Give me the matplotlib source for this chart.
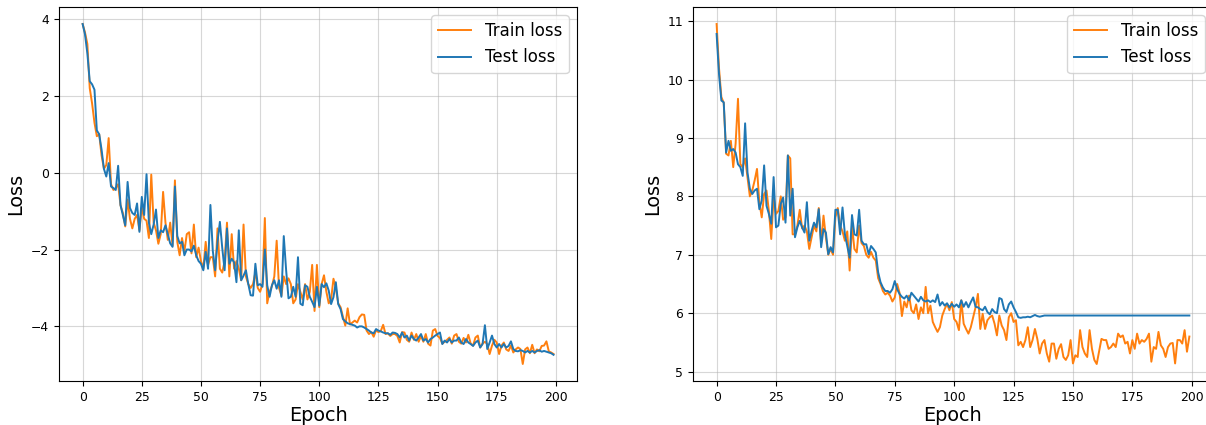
import matplotlib
matplotlib.use("Agg")
import matplotlib.pyplot as plt

# left panel: loss per epoch
left_train = [
    3.87, 3.65, 3.35, 2.2, 1.8, 1.3, 0.95, 1.0, 0.45, 0.1,
    0.2, 0.9, -0.3, -0.45, -0.4, -0.3, -0.85, -1.05, -1.4, -0.7,
    -1.2, -1.45, -1.2, -1.1, -1.5, -0.9, -1.2, -1.25, -1.7, -0.05,
    -1.3, -1.5, -1.85, -1.6, -0.5, -1.3, -1.75, -1.3, -1.9, -0.2,
    -1.8, -2.15, -1.7, -2.05, -1.6, -1.55, -2.1, -1.35, -2.2, -1.95,
    -2.3, -2.5, -1.8, -2.4, -2.2, -2.2, -2.7, -1.45, -2.5, -2.6,
    -2.3, -1.3, -2.7, -1.6, -2.5, -2.3, -2.5, -2.8, -1.35, -2.7,
    -2.9, -3.0, -2.9, -2.6, -3.0, -3.1, -2.9, -1.18, -3.4, -3.1,
    -2.95, -2.7, -1.77, -3.0, -3.2, -2.7, -2.9, -2.75, -2.9, -3.4,
    -3.3, -2.9, -3.1, -3.3, -2.9, -3.3, -3.1, -2.4, -3.6, -2.4,
    -3.5, -2.9, -2.67, -3.1, -3.4, -3.3, -2.76, -3.0, -3.4, -3.5,
    -3.75, -3.98, -3.53, -3.95, -3.9, -3.85, -3.9, -3.76, -3.69, -3.7,
    -4.11, -4.2, -4.15, -4.27, -4.1, -4.15, -4.12, -3.96, -4.2, -4.18,
    -4.25, -4.2, -4.2, -4.25, -4.42, -4.15, -4.16, -4.35, -4.4, -4.16,
    -4.35, -4.2, -4.4, -4.25, -4.4, -4.2, -4.45, -4.5, -4.11, -4.07,
    -4.25, -4.3, -4.45, -4.4, -4.35, -4.29, -4.45, -4.24, -4.2, -4.4,
    -4.45, -4.3, -4.42, -4.22, -4.45, -4.5, -4.29, -4.24, -4.55, -4.45,
    -4.4, -4.46, -4.72, -4.5, -4.35, -4.42, -4.72, -4.5, -4.42, -4.6,
    -4.64, -4.5, -4.68, -4.6, -4.55, -4.59, -4.98, -4.6, -4.55, -4.7,
    -4.48, -4.7, -4.6, -4.65, -4.51, -4.5, -4.39, -4.65, -4.68, -4.72,
]
left_test = [
    3.87, 3.6, 3.1, 2.38, 2.3, 2.16, 1.1, 1.0, 0.6, 0.1,
    -0.1, 0.25, -0.36, -0.4, -0.45, 0.18, -0.84, -1.1, -1.37, -0.24,
    -0.92, -1.05, -1.1, -0.8, -1.54, -0.63, -1.1, -0.04, -1.3, -1.6,
    -1.35, -0.96, -1.7, -1.5, -1.55, -1.37, -1.6, -1.84, -1.93, -0.36,
    -1.65, -1.84, -1.8, -2.15, -2.0, -2.0, -2.05, -1.9, -2.15, -2.3,
    -2.37, -2.54, -2.06, -2.5, -0.84, -2.03, -2.54, -1.8, -1.28, -1.96,
    -2.54, -1.45, -2.37, -2.24, -2.33, -2.85, -1.5, -2.8, -2.68, -2.54,
    -2.9, -3.19, -3.2, -2.37, -2.93, -2.9, -2.97, -2.0, -2.93, -3.23,
    -2.93, -2.8, -3.02, -2.8, -3.23, -1.65, -2.54, -3.27, -3.23, -2.97,
    -3.23, -2.2, -3.41, -3.45, -2.93, -2.97, -3.23, -3.36, -3.5, -2.97,
    -3.46, -2.9, -2.98, -2.88, -3.07, -3.42, -3.24, -2.85, -3.42, -3.55,
    -3.81, -3.87, -3.92, -3.94, -3.96, -3.98, -4.03, -4.0, -4.0, -4.03,
    -4.07, -4.11, -4.16, -4.18, -4.07, -4.11, -4.13, -4.16, -4.18, -4.18,
    -4.22, -4.16, -4.17, -4.2, -4.29, -4.16, -4.29, -4.24, -4.37, -4.24,
    -4.33, -4.37, -4.29, -4.2, -4.37, -4.33, -4.42, -4.33, -4.29, -4.24,
    -4.2, -4.16, -4.46, -4.37, -4.42, -4.33, -4.42, -4.37, -4.37, -4.29,
    -4.42, -4.46, -4.33, -4.42, -4.46, -4.51, -4.42, -4.37, -4.55, -4.46,
    -3.97, -4.59, -4.42, -4.24, -4.46, -4.55, -4.46, -4.55, -4.46, -4.55,
    -4.51, -4.39, -4.59, -4.64, -4.65, -4.62, -4.64, -4.68, -4.64, -4.68,
    -4.64, -4.68, -4.64, -4.62, -4.66, -4.64, -4.66, -4.68, -4.7, -4.74,
]

# right panel
right_train = [
    10.95, 10.2, 9.7, 9.6, 8.73, 8.7, 8.95, 8.5, 8.9, 9.67,
    8.55, 8.5, 8.65, 8.33, 8.0, 8.1, 8.27, 8.47, 7.9, 7.64,
    8.04, 8.1, 7.75, 7.27, 8.0, 7.7, 7.75, 8.0, 7.6, 7.64,
    8.7, 8.65, 7.35, 7.35, 7.5, 7.77, 7.45, 7.5, 7.4, 7.1,
    7.3, 7.5, 7.4, 7.8, 7.2, 7.67, 7.3, 7.0, 7.1, 7.0,
    7.64, 7.8, 7.5, 7.4, 7.24, 7.4, 6.73, 7.5, 7.1, 7.04,
    7.5, 7.2, 7.15, 7.0, 6.95, 7.05, 6.95, 6.9, 6.6, 6.5,
    6.38, 6.32, 6.35, 6.3, 6.2, 6.27, 6.5, 6.35, 5.95, 6.2,
    6.1, 6.3, 6.05, 6.0, 6.15, 5.9, 6.1, 6.0, 6.45, 6.0,
    6.13, 5.85, 5.76, 5.68, 5.76, 5.96, 6.07, 6.16, 6.05, 6.19,
    5.9, 5.85, 5.71, 6.22, 5.82, 5.73, 5.65, 5.76, 5.93, 6.1,
    6.33, 5.73, 5.99, 5.73, 5.88, 5.93, 5.96, 5.82, 5.62, 5.96,
    5.79, 5.71, 5.54, 5.93, 6.0, 5.85, 5.88, 5.45, 5.51, 5.42,
    5.54, 5.76, 5.42, 5.54, 5.73, 5.56, 5.31, 5.48, 5.54, 5.31,
    5.17, 5.48, 5.48, 5.22, 5.39, 5.47, 5.25, 5.2, 5.28, 5.54,
    5.14, 5.28, 5.25, 5.71, 5.42, 5.31, 5.25, 5.71, 5.39, 5.2,
    5.13, 5.34, 5.56, 5.54, 5.54, 5.39, 5.42, 5.48, 5.42, 5.65,
    5.59, 5.62, 5.48, 5.51, 5.31, 5.54, 5.39, 5.65, 5.48, 5.54,
    5.51, 5.56, 5.65, 5.17, 5.42, 5.39, 5.68, 5.45, 5.39, 5.25,
    5.42, 5.48, 5.49, 5.14, 5.54, 5.54, 5.48, 5.71, 5.34, 5.6,
]
right_test = [
    10.78, 10.1, 9.64, 9.61, 8.75, 8.95, 8.78, 8.81, 8.75, 8.55,
    8.5, 8.35, 9.25, 8.41, 8.13, 8.04, 8.1, 8.13, 7.78, 7.93,
    8.53, 7.84, 7.7, 7.53, 8.33, 7.47, 7.5, 7.87, 7.98, 7.55,
    8.7, 7.67, 8.13, 7.3, 7.47, 7.58, 7.47, 7.38, 7.9, 7.24,
    7.41, 7.55, 7.47, 7.78, 7.13, 7.44, 7.38, 7.01, 7.13, 7.04,
    7.77, 7.77, 7.35, 7.81, 7.35, 7.15, 6.95, 7.68, 7.35, 7.33,
    7.77, 7.24, 7.18, 7.18, 7.01, 7.15, 7.1, 7.04, 6.7, 6.53,
    6.44, 6.38, 6.38, 6.35, 6.41, 6.55, 6.41, 6.33, 6.28, 6.25,
    6.3, 6.22, 6.35, 6.3, 6.25, 6.2, 6.28, 6.22, 6.2, 6.22,
    6.19, 6.22, 6.19, 6.32, 6.13, 6.19, 6.13, 6.17, 6.1, 6.16,
    6.11, 6.15, 6.1, 6.22, 6.11, 6.19, 6.1, 6.19, 6.27, 6.11,
    6.1, 6.07, 6.05, 6.11, 6.02, 5.98, 6.07, 6.02, 6.0, 6.26,
    6.24, 6.07, 6.02, 6.15, 6.2, 6.1, 6.02, 5.93, 5.92, 5.93,
    5.93, 5.94, 5.93, 5.95, 5.97, 5.95, 5.94, 5.95, 5.96, 5.96,
    5.96, 5.96, 5.96, 5.96, 5.96, 5.96, 5.96, 5.96, 5.96, 5.96,
    5.96, 5.96, 5.96, 5.96, 5.96, 5.96, 5.96, 5.96, 5.96, 5.96,
    5.96, 5.96, 5.96, 5.96, 5.96, 5.96, 5.96, 5.96, 5.96, 5.96,
    5.96, 5.96, 5.96, 5.96, 5.96, 5.96, 5.96, 5.96, 5.96, 5.96,
    5.96, 5.96, 5.96, 5.96, 5.96, 5.96, 5.96, 5.96, 5.96, 5.96,
    5.96, 5.96, 5.96, 5.96, 5.96, 5.96, 5.96, 5.96, 5.96, 5.96,
]

epochs = list(range(len(left_train)))

fig = plt.figure(figsize=(12.06, 4.25), dpi=100)
# axes placed to match the reference (right panel runs slightly off the edge)
ax1 = fig.add_axes([0.049, 0.1035, 0.4295, 0.88])
ax2 = fig.add_axes([0.5746, 0.1035, 0.4312, 0.88])

for ax, train, test in [(ax1, left_train, left_test), (ax2, right_train, right_test)]:
    ax.plot(epochs, train, color="#ff7f0e", linewidth=1.4, label="Train loss")
    ax.plot(epochs, test, color="#1f77b4", linewidth=1.4, label="Test loss")
    ax.set_xlabel("Epoch", fontsize=13.9, labelpad=1.5)
    ax.set_ylabel("Loss", fontsize=13.9)
    ax.tick_params(labelsize=8.9)
    ax.set_xticks([0, 25, 50, 75, 100, 125, 150, 175, 200])
    ax.grid(alpha=0.5)
    ax.legend(fontsize=12, loc="upper right")

ax1.set_yticks([-4, -2, 0, 2, 4])
ax2.set_yticks([5, 6, 7, 8, 9, 10, 11])

fig.savefig("out.png", dpi=100)
